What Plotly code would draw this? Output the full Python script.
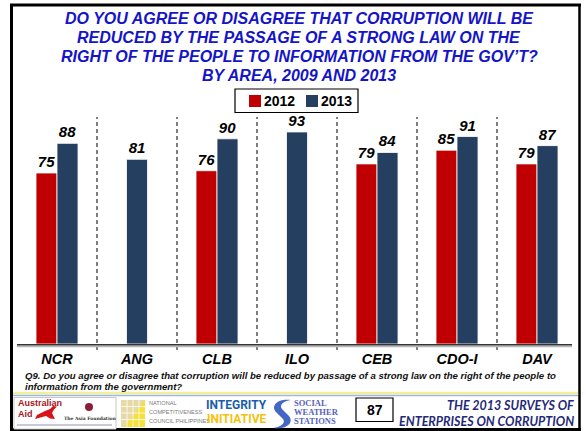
import plotly.graph_objects as go

# ---------------- data ----------------
categories = ["NCR", "ANG", "CLB", "ILO", "CEB", "CDO-I", "DAV"]
values_2012 = [75, None, 76, None, 79, 85, 79]
values_2013 = [88, 81, 90, 93, 84, 91, 87]
series_names = ["2012", "2013"]

title_lines = [
    "DO YOU AGREE OR DISAGREE THAT CORRUPTION WILL BE",
    "REDUCED BY THE PASSAGE OF A STRONG LAW ON THE",
    "RIGHT OF THE PEOPLE TO INFORMATION FROM THE GOV\u2019T?",
    "BY AREA, 2009 AND 2013",
]
footnote_lines = [
    "Q9. Do you agree or disagree that corruption will be reduced by passage of a strong law on the right of the people to",
    "information from the government?",
]
page_number = "87"
footer_lines = ["THE 2013 SURVEYS OF", "ENTERPRISES ON CORRUPTION"]

# ---------------- layout geometry (pixels) ----------------
W, H = 586, 431
L, R, T, B = 17, 577, 116, 344


def px(x):
    return (x - L) / (R - L)


def py(y):
    return (B - y) / (B - T)


RED = "#C00000"
NAVY = "#243F60"
TITLE_BLUE = "#1414C8"
BASE_FONT = "Liberation Sans"
series_colors = [RED, NAVY]

bar_w = 0.2625
off12, off13 = [], []
for a, b in zip(values_2012, values_2013):
    if a is not None and b is not None:
        off12.append(-bar_w)
        off13.append(0.0)
    else:
        off12.append(-bar_w / 2)
        off13.append(-bar_w / 2)

label_font = dict(family=BASE_FONT, size=15, color="black", weight="bold", style="italic")

fig = go.Figure()
for name, vals, offs, col in zip(series_names, [values_2012, values_2013], [off12, off13], series_colors):
    fig.add_trace(go.Bar(
        name=name, x=categories, y=vals,
        offset=offs, width=bar_w,
        marker=dict(color=col, line=dict(color="white", width=0.8)),
        texttemplate="%{y}", textposition="outside", textfont=label_font,
        cliponaxis=False, hoverinfo="x+y+name", showlegend=False,
    ))

shapes = []


def hline(x0, x1, y, color, width, dash=None):
    d = dict(color=color, width=width)
    if dash:
        d["dash"] = dash
    shapes.append(dict(type="line", xref="paper", yref="paper",
                       x0=px(x0), x1=px(x1), y0=py(y), y1=py(y), line=d, layer="above"))


def vline(x, y0, y1, color, width):
    shapes.append(dict(type="line", xref="paper", yref="paper",
                       x0=px(x), x1=px(x), y0=py(y0), y1=py(y1),
                       line=dict(color=color, width=width), layer="above"))


def box(x0, x1, y0, y1, line_color, line_width, fill="white"):
    shapes.append(dict(type="rect", xref="paper", yref="paper",
                       x0=px(x0), x1=px(x1), y0=py(y0), y1=py(y1),
                       line=dict(color=line_color, width=line_width), fillcolor=fill))


def path_from(points):
    """Build an SVG path in paper coords; one command per point (L/M) or per triple (C)."""
    parts = []
    for cmd, pts in points:
        if cmd == "Z":
            parts.append("Z")
        elif cmd == "C":
            for k in range(0, len(pts), 3):
                trip = pts[k:k + 3]
                parts.append("C " + " ".join(f"{px(x):.5f},{py(y):.5f}" for x, y in trip))
        else:
            for x, y in pts:
                parts.append(f"{cmd} {px(x):.5f},{py(y):.5f}")
    return " ".join(parts)


# frame of the slide
hline(10, 581, 5, "black", 3)
hline(10, 581, 429.5, "black", 3)
vline(11.5, 4, 431, "black", 3)
vline(579.5, 4, 431, "black", 2.5)

# dashed separators
for i in range(len(categories) - 1):
    shapes.append(dict(type="line", xref="x", yref="paper",
                       x0=i + 0.5, x1=i + 0.5, y0=py(350), y1=py(117),
                       line=dict(color="#2a2a2a", width=1.2, dash="4px,3px")))
# baseline
hline(17, 572, 346.5, "#B5B5B5", 1.5)
hline(17, 572, 344.8, "#333333", 1.6)
# footer separator lines
hline(13, 578, 393, "#F3EE9A", 2.5)
hline(13, 578, 395.5, "#9DB8DA", 1.5)

# legend (box + swatches)
box(235, 358, 89, 112.5, "black", 1.2)
box(249, 261, 95, 107, RED, 0, RED)
box(306, 318, 95, 107, NAVY, 0, NAVY)

# Australian Aid box
box(14, 116, 397.5, 429, "#C8C8C8", 1)

# kangaroo (rough)
kangaroo = path_from([
    ("M", [(37, 415)]),
    ("L", [(45, 411), (50, 409), (53, 406), (57, 406.5), (54, 409.5),
           (52, 413), (55, 419), (50, 418.5), (46, 416), (35, 419)]),
    ("Z", [])])
shapes.append(dict(type="path", xref="paper", yref="paper", path=kangaroo,
                   fillcolor="#D7141A", line=dict(width=0)))
# Asia Foundation mark
shapes.append(dict(type="circle", xref="paper", yref="paper",
                   x0=px(85), x1=px(93), y0=py(403), y1=py(411),
                   fillcolor="#8B1C3A", line=dict(width=0)))
hline(17, 112, 425, "#B8B8C8", 1.5)

# NCC block
box(121, 145, 400, 427, "#E6D9A6", 0, "#E6D9A6")
ncc_tri = path_from([("M", [(145, 400)]), ("L", [(145, 427), (124, 427)]), ("Z", [])])
shapes.append(dict(type="path", xref="paper", yref="paper", path=ncc_tri,
                   fillcolor="#F6E03A", line=dict(width=0)))
for gx in (127, 133, 139):
    vline(gx, 400, 427, "white", 0.8)
for gy in (406.5, 413, 419.5):
    hline(121, 145, gy, "white", 0.8)

# SWS swoosh
swoosh = path_from([
    ("M", [(291, 400)]),
    ("C", [(279, 398), (270, 405), (276, 412)]),
    ("L", [(283, 419)]),
    ("C", [(286, 423), (281, 427), (273, 428)]),
    ("C", [(284, 430), (295, 424), (289, 416)]),
    ("L", [(282, 409)]),
    ("C", [(279, 405), (283, 401), (291, 400)]),
    ("Z", []),
])
shapes.append(dict(type="path", xref="paper", yref="paper", path=swoosh,
                   fillcolor="#4466C6", line=dict(width=0)))
# page number box
box(356, 393, 398, 421.5, "black", 1.2)

annotations = []


def ann(text, x, y, size, color="black", family=BASE_FONT, weight="normal", style="normal",
        xanchor="center", yanchor="middle"):
    annotations.append(dict(text=text, x=px(x), y=py(y), xref="paper", yref="paper",
                            showarrow=False, xanchor=xanchor, yanchor=yanchor,
                            font=dict(family=family, size=size, color=color,
                                      weight=weight, style=style)))


for line, yc in zip(title_lines, [18.5, 37.5, 56.5, 76]):
    ann(line, 299, yc, 16, TITLE_BLUE, weight="bold", style="italic")

# legend labels
ann(series_names[0], 262, 101, 14, "black", weight="bold", xanchor="left")
ann(series_names[1], 319, 101, 14, "black", weight="bold", xanchor="left")

for line, yc in zip(footnote_lines, [375, 386]):
    ann(line, 23, yc, 9.6, "#111111", weight="bold", style="italic", xanchor="left")

ann("Australian", 16, 403.5, 9, "#A8141E", weight="bold", xanchor="left")
ann("Aid", 16, 413.5, 9, "#A8141E", weight="bold", xanchor="left")
ann("The Asia Foundation", 90, 418, 4.5, "#333333", family="DejaVu Serif", weight="bold")

ann("NATIONAL", 147, 403, 5.6, "#7A7A7A", xanchor="left")
ann("COMPETITIVENESS", 147, 412, 5.6, "#7A7A7A", xanchor="left")
ann("COUNCIL PHILIPPINES", 147, 421, 5.6, "#7A7A7A", xanchor="left")

ann("INTEGRITY", 236, 405, 12, "#1B5DAA", family="Roboto", weight="bold")
ann("INITIATIVE", 236, 418.5, 12, "#F4C20D", family="Roboto", weight="bold")

ann("SOCIAL", 292, 403, 8.5, "#5564B8", family="Liberation Serif", weight="bold", xanchor="left")
ann("WEATHER", 292, 412, 8.5, "#5564B8", family="Liberation Serif", weight="bold", xanchor="left")
ann("STATIONS", 292, 421, 8.5, "#5564B8", family="Liberation Serif", weight="bold", xanchor="left")

ann(page_number, 374.5, 410, 14, "black", weight="bold")

ann(footer_lines[0], 576, 405, 12.5, "#1F2A78", family="Lato", weight="bold", style="italic",
    xanchor="right")
ann(footer_lines[1], 576, 421, 12.5, "#1F2A78", family="Lato", weight="bold", style="italic",
    xanchor="right")

fig.update_layout(
    width=W, height=H,
    margin=dict(l=L, r=W - R, t=T, b=H - B, pad=0),
    paper_bgcolor="white", plot_bgcolor="white",
    barmode="overlay",
    showlegend=False,
    xaxis=dict(type="category", range=[-0.5, len(categories) - 0.5], showgrid=False,
               showline=False, zeroline=False, ticks="", ticklabelstandoff=4,
               tickfont=dict(family=BASE_FONT, size=14.5, color="black", weight="bold", style="italic")),
    yaxis=dict(range=[0, 100], visible=False, showgrid=False),
    shapes=shapes, annotations=annotations,
    font=dict(family=BASE_FONT),
)

fig.write_html("out.html", config={"displayModeBar": False},
               post_script="document.body.style.margin='0px';")
